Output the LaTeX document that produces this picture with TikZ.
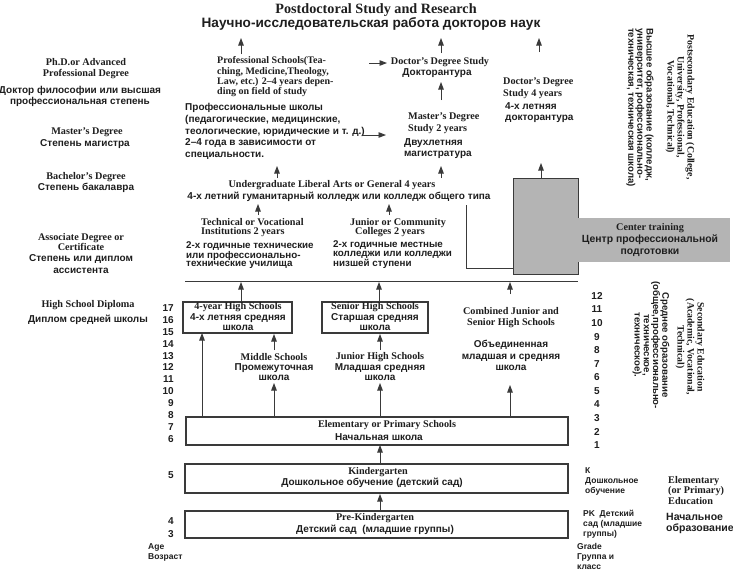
\documentclass[tikz,border=0pt]{standalone}
\usepackage{fontspec}
\setmainfont{Liberation Serif}
\newfontfamily\rusf{Liberation Sans}
\usetikzlibrary{arrows.meta}
\definecolor{ink}{HTML}{1E1E1E}
\definecolor{linec}{HTML}{3A3A3A}
\definecolor{boxgray}{HTML}{B4B4B4}
\tikzset{
 en/.style={font=\bfseries\fontsize{10.2}{10.8}\selectfont, text=ink, inner sep=0pt, align=center},
 ru/.style={font=\rusf\bfseries\fontsize{10}{11.5}\selectfont, text=ink, inner sep=0pt, align=center},
 rut/.style={font=\rusf\bfseries\fontsize{9.8}{8.6}\selectfont, text=ink, inner sep=0pt, align=left},
 num/.style={font=\rusf\bfseries\fontsize{10}{12}\selectfont, text=ink, inner sep=0pt},
 sm/.style={font=\rusf\bfseries\fontsize{8.5}{10}\selectfont, text=ink, inner sep=0pt, align=left},
 up/.style={draw=linec, line width=0.9pt, -{Triangle[length=7.5pt,width=5.5pt]}},
 plain/.style={draw=linec, line width=1pt},
 frame/.style={draw=linec, line width=1.1pt, inner sep=0pt},
}
\begin{document}
\begin{tikzpicture}[x=1pt,y=-1pt]
\useasboundingbox[fill=white] (0,0) rectangle (733,571);

% titles
\node[font=\bfseries\fontsize{14.2}{16}\selectfont, text=ink, inner sep=0pt] (t1) at (376,10) {Postdoctoral Study and Research};
\node[font=\rusf\bfseries\fontsize{13.6}{15}\selectfont, text=ink, inner sep=0pt] (t2) at (371,24) {Научно-исследовательская работа докторов наук};

% left column
\node[en] (phdE) at (86,68.5) {Ph.D.or Advanced\\Professional Degree};
\node[ru] (phdR) at (80,96.5) {Доктор философии или высшая\\профессиональная степень};
\node[en] (msE) at (87,132) {Master’s Degree};
\node[ru] (msR) at (85,144) {Степень магистра};
\node[en] (bsE) at (86,177) {Bachelor’s Degree};
\node[ru] (bsR) at (86,188) {Степень бакалавра};
\node[en] (asE) at (81,242) {Associate Degree or\\Certificate};
\node[ru] (asR) at (81,264) {Степень или диплом\\ассистента};
\node[en] (hsE) at (88,305) {High School Diploma};
\node[ru] (hsR) at (88,320) {Диплом средней школы};

% professional schools
\node[en, align=left, anchor=west, font=\bfseries\fontsize{10}{10.3}\selectfont] (profE) at (217,77) {Professional Schools(Tea-\\ching, Medicine,Theology,\\Law, etc.) 2–4 years depen-\\ding on field of study};
\node[ru, align=left, anchor=west, font=\rusf\bfseries\fontsize{10}{11.7}\selectfont] (profR) at (185,131.5) {Профессиональные школы\\(педагогические, медицинские,\\теологические, юридические и т. д.)\\2–4 года в зависимости от\\специальности.};

\node[en] (docS) at (440,62) {Doctor’s Degree Study};
\node[ru] (docR) at (437,73) {Докторантура};
\node[en, align=left, anchor=west, font=\bfseries\fontsize{10.2}{12}\selectfont] (masE) at (408,123) {Master’s Degree\\Study 2 years};
\node[ru, align=left, anchor=west] (masR) at (404,148.5) {Двухлетняя\\магистратура};
\node[en, align=left, anchor=west, font=\bfseries\fontsize{10.2}{12.5}\selectfont] (doc4E) at (503,88) {Doctor’s Degree\\Study 4 years};
\node[ru, align=left, anchor=west, font=\rusf\bfseries\fontsize{10}{11}\selectfont] (doc4R) at (505,113) {4-х летняя\\докторантура};

% undergraduate
\node[en] (ugE) at (332,185) {Undergraduate Liberal Arts or General 4 years};
\node[ru] (ugR) at (339,197) {4-х летний гуманитарный колледж или колледж общего типа};
\node[en, align=left, anchor=west, font=\bfseries\fontsize{10.2}{9.6}\selectfont] (techE) at (201,227.5) {Technical or Vocational\\Institutions 2 years};
\node[rut, anchor=west] (techR) at (186,255) {2-х годичные технические\\или профессионально-\\технические училища};
\node[en, align=left, anchor=west, font=\bfseries\fontsize{10.2}{9.6}\selectfont] (jcE) at (350,227.5) {Junior or Community\\\hspace*{5pt}Colleges 2 years};
\node[rut, anchor=west] (jcR) at (333,255) {2-х годичные местные\\колледжи или колледжи\\низшей ступени};

% gray boxes
\node[draw=linec, line width=1pt, fill=boxgray, minimum width=65pt, minimum height=96pt, inner sep=0pt] (gbox) at (545.5,226) {};
\node[fill=boxgray, minimum width=152pt, minimum height=44pt, inner sep=0pt] (ctb) at (654,240) {};
\node[en] (ctE) at (650,228) {Center training};
\node[ru, font=\rusf\bfseries\fontsize{10.4}{12}\selectfont] (ctR) at (650,245.5) {Центр профессиональной\\подготовки};

% vertical texts
\node[en, rotate=-90, font=\bfseries\fontsize{9.8}{10}\selectfont] (psE) at (680,107) {Postsecondary Education (College,\\University, Professional,\\Vocational, Technical)};
\node[ru, rotate=-90, align=left, anchor=west, font=\rusf\bfseries\fontsize{9.6}{9.2}\selectfont] (psR) at (640,28) {Высшее образование (колледж,\\университет, рофессионально-\\техническая, техническая школа)};
\node[en, rotate=-90, font=\bfseries\fontsize{9.8}{10}\selectfont] (seE) at (690,347) {Secondary Education\\(Academic, Vocational,\\Technical)};
\node[ru, rotate=-90, font=\rusf\bfseries\fontsize{9.6}{9.2}\selectfont] (seR) at (651,345) {Среднее образование\\(общее,профессионально-\\техническое,\\техническое).};

% school boxes
\node[frame, minimum width=109pt, minimum height=31pt] (hs4) at (237.5,317.5) {};
\node[frame, minimum width=106pt, minimum height=31pt] (shs) at (375,317.5) {};
\node[frame, minimum width=382pt, minimum height=28pt] (elem) at (377,431) {};
\node[frame, minimum width=383pt, minimum height=29pt] (kg) at (376.5,478.5) {};
\node[frame, minimum width=383pt, minimum height=27pt] (pk) at (376.5,524.5) {};

\node[en] (hs4E) at (238,307.5) {4-year High Schools};
\node[ru, font=\rusf\bfseries\fontsize{10}{10}\selectfont] (hs4R) at (238,322.5) {4-х летняя средняя\\школа};
\node[en] (shsE) at (375,307.5) {Senior High Schools};
\node[ru, font=\rusf\bfseries\fontsize{10}{10}\selectfont] (shsR) at (375,322.5) {Старшая средняя\\школа};
\node[en] (midE) at (274,357) {Middle Schools};
\node[ru, font=\rusf\bfseries\fontsize{10}{10}\selectfont] (midR) at (274,372) {Промежуточная\\школа};
\node[en] (jhE) at (380,357) {Junior High Schools};
\node[ru, font=\rusf\bfseries\fontsize{10}{10}\selectfont] (jhR) at (380,372) {Младшая средняя\\школа};
\node[en, font=\bfseries\fontsize{10.2}{11}\selectfont] (cbE) at (511,317.5) {Combined Junior and\\Senior High Schools};
\node[ru] (cbR) at (511,355.5) {Объединенная\\младшая и средняя\\школа};
\node[en] (elE) at (387,425) {Elementary or Primary Schools};
\node[ru] (elR) at (379,437) {Начальная школа};
\node[en] (kgE) at (378,472) {Kindergarten};
\node[ru] (kgR) at (372,483) {Дошкольное обучение (детский сад)};
\node[en] (pkE) at (375,518) {Pre-Kindergarten};
\node[ru] (pkR) at (375,530) {Детский сад\ \ (младшие группы)};

% age numbers
\foreach \n/\yy in {17/308,16/319.9,15/331.8,14/343.7,13/355.6,12/367.5,11/379.4,10/391.3,9/403.2,8/415.1,7/427,6/438.9,5/475,4/521,3/534}{
  \node[num, anchor=east] (age\n) at (174,\yy) {\n};
}
% grade numbers
\foreach \n/\yy in {12/296,11/309.55,10/323.1,9/336.65,8/350.2,7/363.75,6/377.3,5/390.85,4/404.4,3/417.95,2/431.5,1/445}{
  \node[num] (gr\n) at (597,\yy) {\n};
}

% bottom labels
\node[sm, anchor=west] (ageL) at (148,552) {Age\\Возраст};
\node[sm, anchor=west] (kL) at (585,471) {К};
\node[sm, anchor=west] (kR) at (585,486.5) {Дошкольное\\обучение};
\node[sm, anchor=west] (pkL) at (583,524) {PK\ \ Детский\\сад (младшие\\группы)};
\node[sm, anchor=west] (grL) at (577,556) {Grade\\Группа и\\класс};
\node[en, align=left, anchor=west, font=\bfseries\fontsize{10.2}{10.5}\selectfont] (elemE) at (668,490.5) {Elementary\\(or Primary)\\Education};
\node[ru, align=left, anchor=west, font=\rusf\bfseries\fontsize{10.5}{11}\selectfont] (elemR) at (666,523.5) {Начальное\\образование};

% connector coordinates
\coordinate (a1s) at (241,54); \coordinate (a1e) at (241,38);
\coordinate (a2s) at (441,53); \coordinate (a2e) at (441,38);
\coordinate (a3s) at (539,52); \coordinate (a3e) at (539,38);
\coordinate (a4s) at (441,100); \coordinate (a4e) at (441,82);
\coordinate (a5s) at (369,63); \coordinate (a5e) at (387,63);
\coordinate (a6s) at (363,135); \coordinate (a6e) at (386,135);
\coordinate (a7s) at (277,178); \coordinate (a7e) at (277,166);
\coordinate (a8s) at (441,178); \coordinate (a8e) at (441,166);
\coordinate (a9s) at (258,215); \coordinate (a9e) at (258,204);
\coordinate (a10s) at (389,215); \coordinate (a10e) at (389,204);
\coordinate (a11e) at (541,163);
\coordinate (ln1) at (185,281); \coordinate (ln2) at (578,281);
\coordinate (lA) at (466,205); \coordinate (lB) at (466,268);
\coordinate (u1s) at (241,302); \coordinate (u1e) at (241,282);
\coordinate (u2s) at (379,302); \coordinate (u2e) at (379,282);
\coordinate (u3s) at (510,294); \coordinate (u3e) at (510,282);
\coordinate (m1s) at (202,417); \coordinate (m1e) at (202,333);
\coordinate (m2s) at (274,417); \coordinate (m2e) at (274,383);
\coordinate (m3s) at (274,350); \coordinate (m3e) at (274,334);
\coordinate (m4s) at (380,417); \coordinate (m4e) at (380,383);
\coordinate (m5s) at (380,350); \coordinate (m5e) at (380,334);
\coordinate (m6s) at (510,417); \coordinate (m6e) at (510,385);
\coordinate (k1s) at (380,464); \coordinate (k1e) at (380,445);
\coordinate (k2s) at (380,511); \coordinate (k2e) at (380,494);

% connectors
\foreach \s/\e in {a1s/a1e,a2s/a2e,a3s/a3e,a4s/a4e,a5s/a5e,a6s/a6e,a7s/a7e,a8s/a8e,a9s/a9e,a10s/a10e,u1s/u1e,u2s/u2e,u3s/u3e,m1s/m1e,m2s/m2e,m3s/m3e,m4s/m4e,m5s/m5e,m6s/m6e,k1s/k1e,k2s/k2e}{
  \draw[up] (\s) -- (\e);
}
\draw[up] (gbox.north -| a11e) -- (a11e);
\draw[plain] (ln1) -- (ln2);
\draw[plain] (lA) |- (gbox.west |- lB);
\end{tikzpicture}
\end{document}
